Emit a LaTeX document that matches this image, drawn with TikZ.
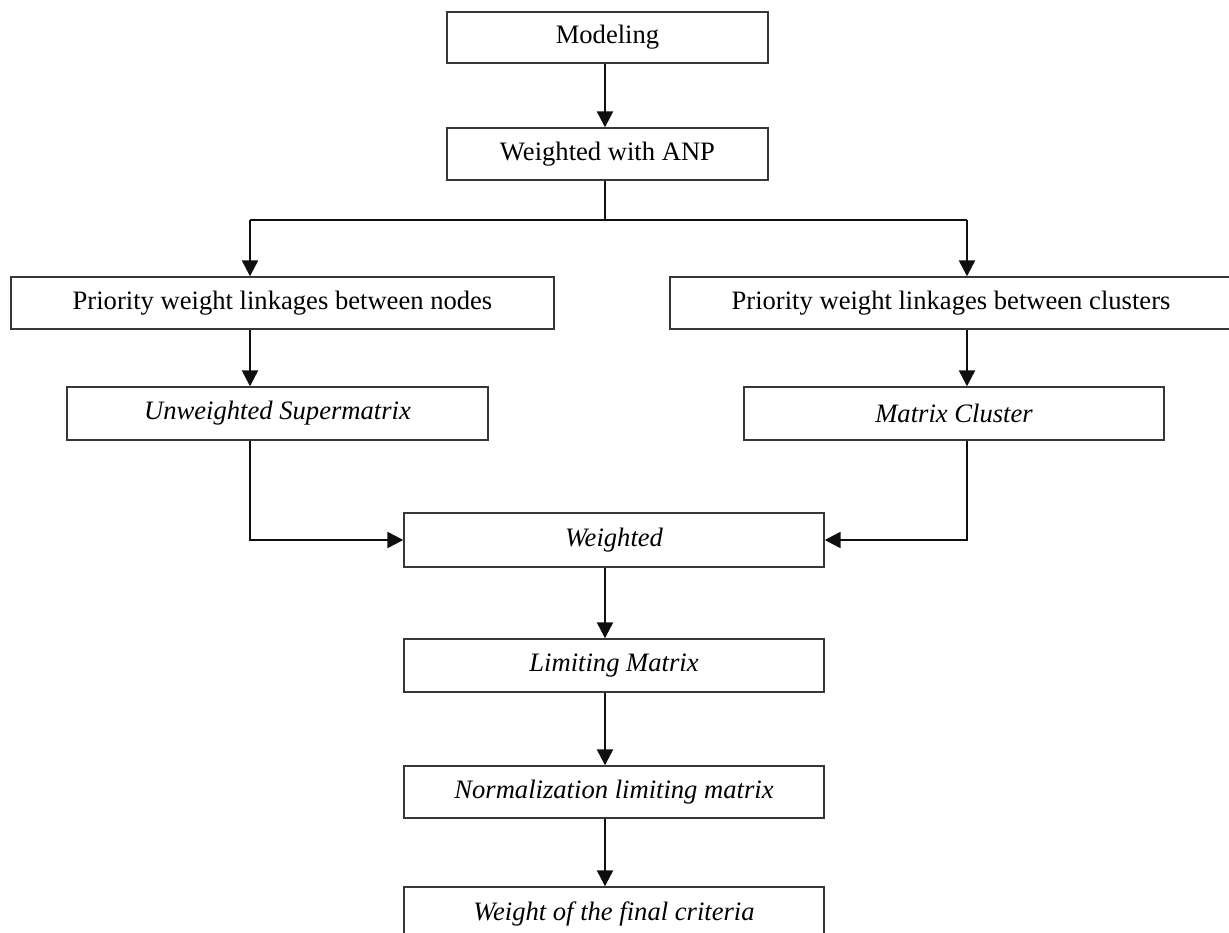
\documentclass[tikz,border=0pt]{standalone}
\usepackage{fontspec}
\setmainfont{Liberation Serif}
\usepackage{xcolor}
\usepackage{tikz}
\usetikzlibrary{arrows.meta,calc}
\definecolor{figline}{RGB}{15,15,15}
\definecolor{figbox}{RGB}{55,55,55}
\tikzset{
  box/.style  ={draw=figbox, line width=1.4pt, inner sep=0pt, font=\fontsize{26.6}{30}\selectfont},
  boxi/.style ={box, font=\fontsize{26.6}{30}\selectfont\itshape},
  lnk/.style  ={draw=figline, line width=1.4pt},
  trunk/.style={draw=figline, line width=2.8pt},
  arr/.style  ={draw=figline, line width=2.4pt, -{Triangle[length=16pt,width=16pt]}},
}
\begin{document}
\begin{tikzpicture}[x=1pt,y=-1pt]
  \useasboundingbox (0,0) rectangle (1229,933);
  % boxes
  \node[box,  minimum width=321pt, minimum height=51pt] (model) at (607.5,37.5) {Modeling};
  \node[box,  minimum width=321pt, minimum height=52pt] (anp)   at (607.5,154)  {Weighted with ANP};
  \node[box,  minimum width=543pt, minimum height=52pt] (nodes) at (282.5,303)  {Priority weight linkages between nodes};
  \node[box,  minimum width=562pt, minimum height=52pt] (clust) at (951,303)    {Priority weight linkages between clusters};
  \node[boxi, minimum width=421pt, minimum height=53pt] (unw)   at (277.5,413.5){Unweighted Supermatrix};
  \node[boxi, minimum width=420pt, minimum height=53pt] (mclu)  at (954,413.5)  {Matrix Cluster};
  \node[boxi, minimum width=420pt, minimum height=54pt] (wtd)   at (614,540)    {Weighted};
  \node[boxi, minimum width=420pt, minimum height=53pt] (lim)   at (614,665.5)  {Limiting Matrix};
  \node[boxi, minimum width=420pt, minimum height=52pt] (norm)  at (614,792)    {Normalization limiting matrix};
  \node[boxi, minimum width=420pt, minimum height=53pt] (fin)   at (614,913.5)  {Weight of the final criteria};
  % branch points
  \coordinate (axis) at (605,0);
  \coordinate (split) at (605,220);
  \coordinate (jl) at (250,220);
  \coordinate (jr) at (967,220);
  % connectors
  \draw[arr] (axis |- model.south) -- (axis |- anp.north);
  \draw[lnk] (axis |- anp.south) -- (split);
  \draw[trunk] (jl) -- (jr);
  \draw[arr] (jl) -- (jl |- nodes.north);
  \draw[arr] (jr) -- (jr |- clust.north);
  \draw[arr] (jl |- nodes.south) -- (jl |- unw.north);
  \draw[arr] (jr |- clust.south) -- (jr |- mclu.north);
  \draw[arr] (jl |- unw.south) |- (wtd.west);
  \draw[arr] (jr |- mclu.south) |- (wtd.east);
  \draw[arr] (axis |- wtd.south) -- (axis |- lim.north);
  \draw[arr] (axis |- lim.south) -- (axis |- norm.north);
  \draw[arr] (axis |- norm.south) -- (axis |- fin.north);
\end{tikzpicture}
\end{document}
